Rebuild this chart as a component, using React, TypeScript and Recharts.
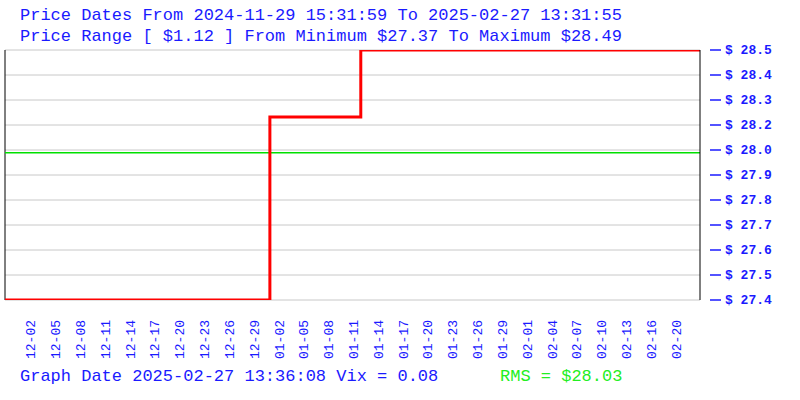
import React from 'react';
import { LineChart, Line, XAxis, YAxis, CartesianGrid, ReferenceLine } from 'recharts';

// span of the price window in days (2024-11-29 15:31:59 .. 2025-02-27 13:31:55)
const spanDays = 89.9166;

const stepDays = [0, 34.27, 46.03, spanDays];
const stepPrices = [27.37, 28.19, 28.49, 28.49];

const priceMin = 27.37;
const priceMax = 28.49;
const rmsValue = 28.03;

const xLabels = [
  '12-02', '12-05', '12-08', '12-11', '12-14', '12-17', '12-20', '12-23', '12-26', '12-29',
  '01-02', '01-05', '01-08', '01-11', '01-14', '01-17', '01-20', '01-23', '01-26', '01-29',
  '02-01', '02-04', '02-07', '02-10', '02-13', '02-16', '02-20',
];

const titleLine1 = 'Price Dates From 2024-11-29 15:31:59 To 2025-02-27 13:31:55';
const titleLine2 = 'Price Range [ $1.12 ] From Minimum $27.37 To Maximum $28.49';
const footerLeft = 'Graph Date 2025-02-27 13:36:08 Vix = 0.08';
const footerRight = 'RMS = $28.03';

const data = stepDays.map((d, i) => ({ d, price: stepPrices[i] }));
const xTicks = xLabels.map((_, i) => ((i + 1) * spanDays) / (xLabels.length + 1));
const yTicks = Array.from({ length: 11 }, (_, i) => priceMin + ((priceMax - priceMin) * i) / 10);

const BLUE = '#1a1aff';
const MONO = '"Liberation Mono", "DejaVu Sans Mono", monospace';

const XTick = (props: any) => {
  const { x, payload } = props;
  const idx = xTicks.indexOf(payload.value);
  return (
    <text
      transform={`translate(${x + 2},320) rotate(-90)`}
      textAnchor="end"
      dominantBaseline="central"
      fill={BLUE}
      fontSize={13}
      fontFamily={MONO}
    >
      {xLabels[idx]}
    </text>
  );
};

const YTick = (props: any) => {
  const { x, y, payload } = props;
  return (
    <g>
      <line x1={x + 10} x2={x + 21} y1={y} y2={y} stroke={BLUE} strokeWidth={1.5} />
      <text
        x={x + 25}
        y={y}
        dominantBaseline="central"
        fill={BLUE}
        fontSize={13}
        fontWeight="bold"
        fontFamily={MONO}
      >
        {`$ ${payload.value.toFixed(1)}`}
      </text>
    </g>
  );
};

const App = () => {
  return (
    <div style={{ position: 'absolute', left: 0, top: 0, width: 800, height: 400, background: '#fff' }}>
      <LineChart width={800} height={400} data={data} margin={{ top: 50, right: 0, bottom: 0, left: 5 }}>
        <CartesianGrid vertical={false} stroke="#c8c8c8" />
        <XAxis
          dataKey="d"
          type="number"
          domain={[0, spanDays]}
          ticks={xTicks}
          interval={0}
          axisLine={false}
          tickLine={false}
          height={100}
          tick={<XTick />}
        />
        <YAxis
          orientation="right"
          domain={[priceMin, priceMax]}
          ticks={yTicks}
          interval={0}
          allowDataOverflow
          width={100}
          tickSize={0}
          tickMargin={0}
          tickLine={false}
          axisLine={{ stroke: '#000' }}
          tick={<YTick />}
        />
        <ReferenceLine x={0} stroke="#000" />
        <ReferenceLine y={rmsValue} stroke="#00e000" strokeWidth={1.5} />
        <Line
          type="stepAfter"
          dataKey="price"
          stroke="#ff0000"
          strokeWidth={3}
          dot={false}
          isAnimationActive={false}
        />
      </LineChart>
      <svg
        width={800}
        height={400}
        style={{ position: 'absolute', left: 0, top: 0, pointerEvents: 'none' }}
        fontFamily={MONO}
        fontSize={17}
      >
        <text x={20} y={20} fill={BLUE}>{titleLine1}</text>
        <text x={20} y={41} fill={BLUE}>{titleLine2}</text>
        <text x={20} y={381} fill={BLUE}>{footerLeft}</text>
        <text x={500} y={381} fill="#22ee22">{footerRight}</text>
      </svg>
    </div>
  );
};

export default App;
